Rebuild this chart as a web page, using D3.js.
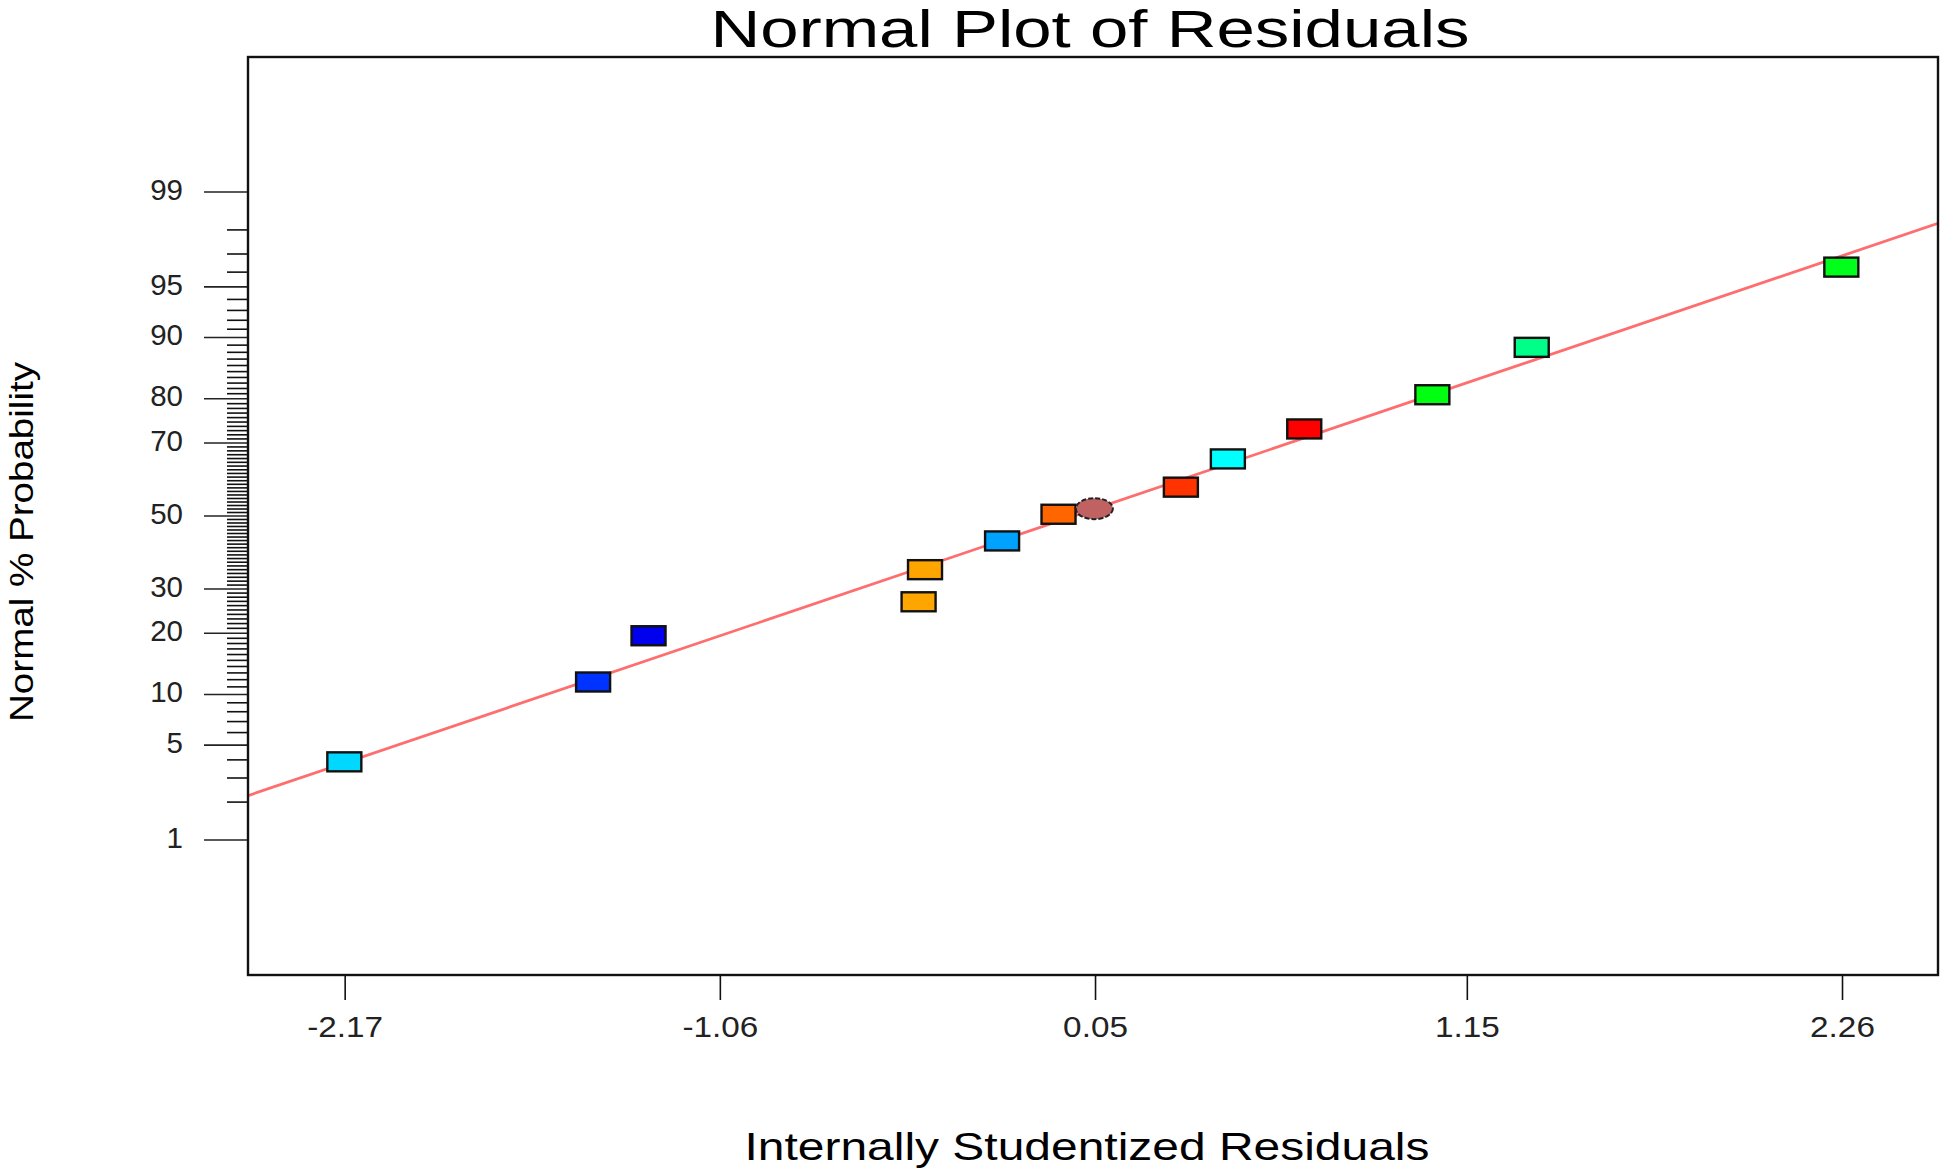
<!DOCTYPE html>
<html>
<head>
<meta charset="utf-8">
<script src="https://cdn.jsdelivr.net/npm/d3@7"></script>
<style>
  html, body { margin: 0; padding: 0; background: #fff; }
  svg { display: block; font-family: "Liberation Sans", Arial, sans-serif; }
</style>
</head>
<body>
<svg id="chart" width="1946" height="1173"></svg>
<script>
// ---- data ----
const residuals     = [-2.171, -1.435, -1.271, -0.472, -0.453, -0.225, -0.058, 0.304, 0.443, 0.669, 1.048, 1.342, 2.258];
const probabilities = [3.88, 11.67, 19.5, 26.9, 35.0, 42.9, 50.5, 58.2, 65.9, 73.4, 80.8, 88.7, 96.3];
const pointColors   = ["#00D8FF", "#0033FF", "#0000EE", "#FFA500", "#FFA500", "#00A2FF", "#FF6600",
                       "#FF3300", "#00FFFF", "#FF0000", "#00FF11", "#00FF88", "#00FF1A"];
const extraPoint    = { residual: 0.048, probability: 52.1 };
const fitLine       = { mean: -0.013, sd: 1.217 };
const xTicks        = [-2.17, -1.06, 0.05, 1.15, 2.26];
const yMajorTicks   = [1, 5, 10, 20, 30, 50, 70, 80, 90, 95, 99];
const yMinorTicks   = d3.range(2, 99).filter(v => !yMajorTicks.includes(v));
const titleText     = "Normal Plot of Residuals";
const xTitle        = "Internally Studentized Residuals";
const yTitle        = "Normal % Probability";

// ---- inverse normal CDF (Acklam) ----
function probit(p) {
  const a = [-3.969683028665376e+01, 2.209460984245205e+02, -2.759285104469687e+02, 1.383577518672690e+02, -3.066479806614716e+01, 2.506628277459239e+00];
  const b = [-5.447609879822406e+01, 1.615858368580409e+02, -1.556989798598866e+02, 6.680131188771972e+01, -1.328068155288572e+01];
  const c = [-7.784894002430293e-03, -3.223964580411365e-01, -2.400758277161838e+00, -2.549732539343734e+00, 4.374664141464968e+00, 2.938163982698783e+00];
  const d = [7.784695709041462e-03, 3.224671290700398e-01, 2.445134137142996e+00, 3.754408661907416e+00];
  const pl = 0.02425, ph = 1 - pl;
  let q, r;
  if (p < pl) {
    q = Math.sqrt(-2 * Math.log(p));
    return (((((c[0]*q+c[1])*q+c[2])*q+c[3])*q+c[4])*q+c[5]) / ((((d[0]*q+d[1])*q+d[2])*q+d[3])*q+1);
  } else if (p <= ph) {
    q = p - 0.5; r = q * q;
    return (((((a[0]*r+a[1])*r+a[2])*r+a[3])*r+a[4])*r+a[5])*q / (((((b[0]*r+b[1])*r+b[2])*r+b[3])*r+b[4])*r+1);
  } else {
    q = Math.sqrt(-2 * Math.log(1 - p));
    return -(((((c[0]*q+c[1])*q+c[2])*q+c[3])*q+c[4])*q+c[5]) / ((((d[0]*q+d[1])*q+d[2])*q+d[3])*q+1);
  }
}

// ---- layout ----
const L = 248, R = 1938, T = 57, B = 975;
const svg = d3.select("#chart");

const x = d3.scaleLinear().domain([-2.456, 2.544]).range([L, R]);
const yz = d3.scaleLinear().domain([-3.295, 3.295]).range([B, T]);
const yP = p => yz(probit(p / 100));

// clip
svg.append("defs").append("clipPath").attr("id", "plotclip")
  .append("rect").attr("x", L).attr("y", T).attr("width", R - L).attr("height", B - T);

// title
svg.append("text")
  .attr("x", 1090).attr("y", 46.5)
  .attr("text-anchor", "middle")
  .attr("font-size", 51)
  .attr("textLength", 759).attr("lengthAdjust", "spacingAndGlyphs")
  .attr("fill", "#000")
  .text(titleText);

// x axis
const xAxis = svg.append("g")
  .attr("transform", `translate(0,${B})`)
  .call(d3.axisBottom(x).tickValues(xTicks).tickSize(25).tickPadding(0).tickFormat(d => d.toFixed(2)));
xAxis.select(".domain").remove();
xAxis.selectAll(".tick line").attr("stroke", "#111").attr("stroke-width", 1.6);
xAxis.selectAll(".tick text")
  .attr("font-family", "Liberation Sans, Arial, sans-serif")
  .attr("font-size", 30)
  .attr("fill", "#222")
  .attr("y", 62.5).attr("dy", null)
  .attr("transform", "scale(1.11,1)");

// y axis ticks (probability scale)
const yAxis = svg.append("g");
yAxis.selectAll("line.minor").data(yMinorTicks).enter().append("line")
  .attr("class", "minor")
  .attr("x1", 227).attr("x2", L)
  .attr("y1", d => yP(d)).attr("y2", d => yP(d))
  .attr("stroke", "#111").attr("stroke-width", 1.6);
yAxis.selectAll("line.major").data(yMajorTicks).enter().append("line")
  .attr("class", "major")
  .attr("x1", 204).attr("x2", L)
  .attr("y1", d => yP(d)).attr("y2", d => yP(d))
  .attr("stroke", "#222").attr("stroke-width", 1.6);
yAxis.selectAll("text").data(yMajorTicks).enter().append("text")
  .attr("x", 183).attr("y", d => yP(d) + 7.7)
  .attr("text-anchor", "end")
  .attr("font-size", 29.5)
  .attr("fill", "#222")
  .text(d => d);

// axis titles
svg.append("text")
  .attr("x", 1087).attr("y", 1160)
  .attr("text-anchor", "middle")
  .attr("font-size", 39)
  .attr("textLength", 685).attr("lengthAdjust", "spacingAndGlyphs")
  .attr("fill", "#000")
  .text(xTitle);

svg.append("text")
  .attr("transform", "translate(33,542) rotate(-90)")
  .attr("text-anchor", "middle")
  .attr("font-size", 33.5)
  .attr("textLength", 360).attr("lengthAdjust", "spacingAndGlyphs")
  .attr("fill", "#000")
  .text(yTitle);

// plot
const plot = svg.append("g").attr("clip-path", "url(#plotclip)");

// fitted normal line
const lineData = x.domain().map(v => ({ v, z: (v - fitLine.mean) / fitLine.sd }));
plot.append("path")
  .datum(lineData)
  .attr("d", d3.line().x(d => x(d.v)).y(d => yz(d.z)))
  .attr("fill", "none")
  .attr("stroke", "#FF6E6E")
  .attr("stroke-width", 2.8);

// points
const pts = residuals.map((r, i) => ({ r, p: probabilities[i], c: pointColors[i] }));
const rw = 34, rh = 19;
plot.selectAll("rect.pt").data(pts).enter().append("rect")
  .attr("class", "pt")
  .attr("x", d => x(d.r) - rw / 2)
  .attr("y", d => yP(d.p) - rh / 2)
  .attr("width", rw).attr("height", rh)
  .attr("fill", d => d.c)
  .attr("stroke", "#111").attr("stroke-width", 2.4);

plot.append("ellipse")
  .attr("cx", x(extraPoint.residual))
  .attr("cy", yP(extraPoint.probability))
  .attr("rx", 18.5).attr("ry", 10.5)
  .attr("fill", "#C06262")
  .attr("stroke", "#222").attr("stroke-width", 2)
  .attr("stroke-dasharray", "5,2");

// frame
svg.append("rect")
  .attr("x", L).attr("y", T).attr("width", R - L).attr("height", B - T)
  .attr("fill", "none").attr("stroke", "#111").attr("stroke-width", 2.4);
</script>
</body>
</html>
